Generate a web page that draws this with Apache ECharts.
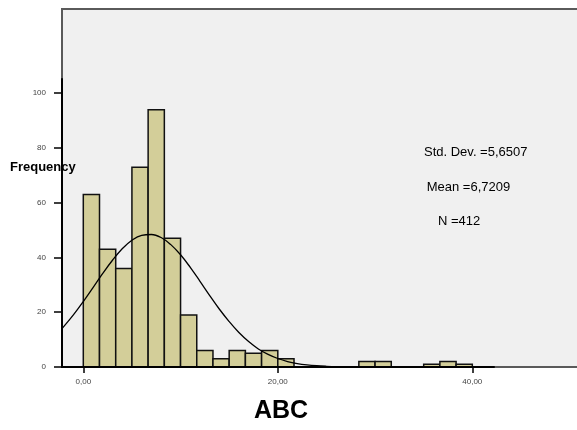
<!DOCTYPE html>
<html>
<head>
<meta charset="utf-8">
<script src="https://cdn.jsdelivr.net/npm/echarts@6/dist/echarts.min.js"></script>
<style>html,body{margin:0;padding:0;background:#fff;}#c{width:577px;height:430px;}</style>
</head>
<body>
<div id="c"></div>
<script>
// Histogram bins: start 0, width 5/3, 24 bins
const binStart = 0;
const binWidth = 5 / 3;
const counts = [63, 43, 36, 73, 94, 47, 19, 6, 3, 6, 5, 6, 3, 0, 0, 0, 0, 2, 2, 0, 0, 1, 2, 1];
// Normal curve points [x, frequency]
const curveX = [-2.19, -1, 0, 1, 2, 3, 4, 5, 6, 7, 8, 9, 10, 11, 12, 13, 14, 15, 16, 17, 18, 19, 20, 21, 22, 23, 24, 25, 26, 28, 30, 34, 38, 42.23];
const curveY = [14.0, 19.1, 23.9, 29.0, 34.2, 39.0, 43.2, 46.3, 48.1, 48.4, 47.3, 44.7, 41.0, 36.4, 31.3, 26.1, 21.1, 16.6, 12.6, 9.3, 6.6, 4.6, 3.1, 2.0, 1.25, 0.76, 0.45, 0.26, 0.14, 0.04, 0.01, 0, 0, 0];
const xTicks = [0, 20, 40];
const yTicks = [0, 20, 40, 60, 80, 100];
const stats = ['Std. Dev. =5,6507', 'Mean =6,7209', 'N =412'];
const xTitle = 'ABC';
const yTitle = 'Frequency';

const FONT = '"Liberation Sans", Arial, sans-serif';
const barData = [];
counts.forEach((c, i) => {
  if (c > 0) barData.push([binStart + i * binWidth, binStart + (i + 1) * binWidth, c]);
});
const lineData = curveX.map((x, i) => [x, curveY[i]]);

const chart = echarts.init(document.getElementById('c'), null, {renderer: 'canvas'});
chart.setOption({
  animation: false,
  backgroundColor: '#ffffff',
  grid: [
    {left: 62, top: 79, width: 432, bottom: 63, z: 5}
  ],
  xAxis: [
    {
      gridIndex: 0, type: 'value', min: -2.19, max: 42.23, z: 6,
      axisLine: {show: true, onZero: false, lineStyle: {color: '#000', width: 2}},
      axisTick: {show: true, customValues: xTicks, length: 6, lineStyle: {color: '#000', width: 1.5}},
      axisLabel: {customValues: xTicks, margin: 11, fontSize: 8, color: '#444', fontFamily: FONT,
        formatter: v => v.toFixed(2).replace('.', ',')},
      splitLine: {show: false}
    }
  ],
  yAxis: [
    {
      gridIndex: 0, type: 'value', min: 0, max: 105.2, z: 6,
      axisLine: {show: true, onZero: false, lineStyle: {color: '#000', width: 2}},
      axisTick: {show: true, customValues: yTicks, length: 8, lineStyle: {color: '#000', width: 1.5}},
      axisLabel: {customValues: yTicks, margin: 16, fontSize: 8, color: '#444', fontFamily: FONT},
      splitLine: {show: false}
    }
  ],
  series: [
    {
      type: 'custom', z: 3,
      data: barData,
      renderItem: (params, api) => {
        const p0 = api.coord([api.value(0), api.value(2)]);
        const p1 = api.coord([api.value(1), 0]);
        return {type: 'rect', shape: {x: p0[0], y: p0[1], width: p1[0] - p0[0], height: p1[1] - p0[1]},
          style: {fill: '#d3ce99', stroke: '#111', lineWidth: 1.5}};
      }
    },
    {
      type: 'line', z: 4,
      data: lineData, smooth: 0.4, symbol: 'none',
      lineStyle: {color: '#000', width: 1.3}
    }
  ],
  graphic: [
    {type: 'rect', z: -10, silent: true, shape: {x: 62, y: 9, width: 540, height: 358},
      style: {fill: '#f0f0f0', stroke: '#5a5a5a', lineWidth: 2}},
    {type: 'text', left: 10, top: 161, z: 4, style: {text: yTitle, font: 'bold 13px ' + FONT, fill: '#000'}},
    {type: 'text', x: 281, y: 411, z: 4, style: {text: xTitle, font: 'bold 25px ' + FONT, fill: '#000', align: 'center', verticalAlign: 'middle'}},
    {type: 'text', x: 424, y: 152.7, z: 4, style: {text: stats[0], font: '13px ' + FONT, fill: '#000', verticalAlign: 'middle'}},
    {type: 'text', x: 426.7, y: 187.3, z: 4, style: {text: stats[1], font: '13px ' + FONT, fill: '#000', verticalAlign: 'middle'}},
    {type: 'text', x: 438, y: 221.7, z: 4, style: {text: stats[2], font: '13px ' + FONT, fill: '#000', verticalAlign: 'middle'}}
  ]
});
</script>
</body>
</html>
